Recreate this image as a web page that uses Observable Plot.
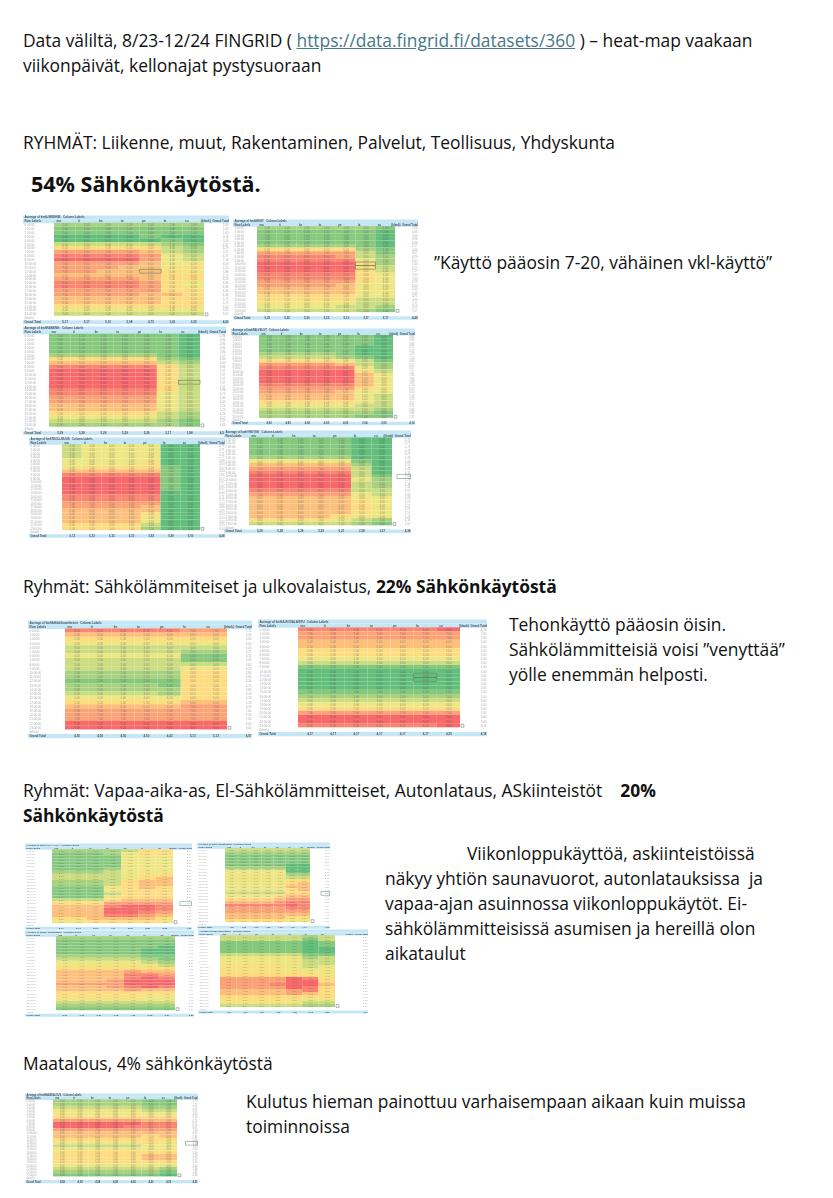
<!DOCTYPE html>
<html lang="fi">
<head>
<meta charset="utf-8">
<script src="https://cdn.jsdelivr.net/npm/d3@7"></script>
<script src="https://cdn.jsdelivr.net/npm/@observablehq/plot@0.6"></script>
<style>
html,body{margin:0;padding:0;background:#fff;}
#page{position:relative;width:833px;height:1198px;overflow:hidden;font-family:"Open Sans",sans-serif;color:#111;}
.line{position:absolute;white-space:pre;font-size:17.4px;line-height:24px;}
.line a{color:#467886;text-decoration:underline;}
.map{position:absolute;}
.map svg{display:block;filter:blur(0.5px);font-family:"Liberation Sans",sans-serif;}
</style>
</head>
<body>
<div id="page"></div>
<script>
// Ruudut: 0 = vihreä (pieni käyttö) … 9 = punainen (suuri käyttö), arvioitu kuvasta. Sarakkeet ma–su, rivit 0–23.
const days = ["ma","ti","ke","to","pe","la","su"];
const hours = ["0:00:00","1:00:00","2:00:00","3:00:00","4:00:00","5:00:00","6:00:00","7:00:00","8:00:00","9:00:00","10:00:00","11:00:00","12:00:00","13:00:00","14:00:00","15:00:00","16:00:00","17:00:00","18:00:00","19:00:00","20:00:00","21:00:00","22:00:00","23:00:00"];

const liikenne = ["2222222","1111111","1111111","0000100","0000010","3333321","5555532","7777632","8888743","9999743","7777644","7776645","7766654","6666655","7777655","8888754","8888754","7777755","7777665","6666655","6666655","5555555","4444444","3333333"];
const muut = ["2222221","1111110","1111110","1111110","1111110","2222210","5555521","7777731","8888732","8888842","9999952","9999953","9999953","8888854","8888854","7777754","7777644","6666644","6666644","5555544","5555533","4444433","4444332","3333321"];
const rakentaminen = ["1111110","1111110","1111110","1111110","1111110","2222210","5555521","6666632","8888853","9999953","9999953","9999953","9999953","9999953","8888853","8888843","7777743","7777743","6666643","6666643","5555532","4444432","3333321","2222221"];
const palvelut = ["1111110","1111110","1111110","1111100","1111100","2222100","3333210","5555431","7777632","8888842","9999953","9999964","9999964","9999964","8888864","7777754","7777644","6666643","6666643","5555543","4444433","3333332","2222221","2222211"];
const teollisuus = ["3444400","3444400","3444400","3444400","4444400","4444500","4555510","6666610","8888810","9999910","9999910","9999910","9999910","9999900","8888800","8888800","7777700","7777600","6666600","6666500","6666400","6666400","5555300","5555200"];
const yhdyskunta = ["1111100","1111100","1111100","1111100","1111100","2222200","4444410","6666620","7777730","8888830","9999931","9999942","9999932","9999932","8888833","7777743","6666644","6666654","6666654","6666654","6666654","6666544","5555432","3333321"];
const sahkolammitteiset = ["8888877","6666666","5555555","4444444","3333333","3333322","4444411","3333311","3333333","3333344","2222255","2222255","1111155","2222155","2222255","3333255","4444455","5555566","6666677","7777777","7777777","7777777","9999999","9999999"];
const ulkovalaistus = ["8888889","7777777","7777777","6666666","6666666","5555555","5555555","4444444","3333333","1111111","0000000","0000000","0000000","0000000","0000000","1111111","2222222","3333333","4444444","5555555","7777777","9999999","9999999","8888889"];
const vapaaAika = ["2222355","1112455","1111444","1111444","1111444","1111444","1112444","2223444","3333455","3333456","2223566","2223566","1114565","1114555","1113555","1114555","3335666","5557777","6668998","6669998","6669987","6668876","5566665","4455554"];
const askiinteistot = ["3333333","2222222","1111111","1111111","1111111","1111100","2222200","4444400","4444422","4444433","4444455","4444456","4444466","4444456","3333355","4444566","5555677","6666788","8888898","7777788","7777777","6666666","6666655","5555544"];
const elSahko = ["2222222","1111111","1111111","1111110","1111100","1111100","2222211","3333321","4444432","4444443","5555555","6666766","6666887","6666898","6667999","7777999","6667898","6666766","5555555","5555544","4444444","3333333","2222222","1111111"];
const autonlataus = ["3333323","3333313","1111101","1111101","1111100","1111100","3333311","4444423","4444433","4444433","5555434","4444444","5555544","5555554","7777985","7777995","7778996","7777985","6666785","6666765","5555555","5555544","4444433","3333322"];
const maatalous = ["2222211","2222211","3333322","4444433","4444444","5555555","7777766","9999988","9999888","7777777","6666666","6666656","5555555","4444454","3333344","4444444","5555555","5555566","5555566","5555555","4444444","3333332","2222221","1111110"];

const textLines = [
  [23,40,'Data väliltä, 8/23-12/24 FINGRID ( <a>https://data.fingrid.fi/datasets/360</a> ) – heat-map vaakaan'],
  [23,65,'viikonpäivät, kellonajat pystysuoraan'],
  [23,142,'RYHMÄT: Liikenne, muut, Rakentaminen, Palvelut, Teollisuus, Yhdyskunta'],
  [31,184,'<b style="font-size:21.5px">54% Sähkönkäytöstä.</b>'],
  [434,262,'”Käyttö pääosin 7-20, vähäinen vkl-käyttö”'],
  [23,586,'Ryhmät: Sähkölämmiteiset ja ulkovalaistus, <b>22% Sähkönkäytöstä</b>'],
  [509,624,'Tehonkäyttö pääosin öisin.'],
  [509,649,'Sähkölämmitteisiä voisi ”venyttää”'],
  [509,674,'yölle enemmän helposti.'],
  [23,790,'Ryhmät: Vapaa-aika-as, El-Sähkölämmitteiset, Autonlataus, ASkiinteistöt    <b>20%</b>'],
  [23,815,'<b>Sähkönkäytöstä</b>'],
  [467,853,'Viikonloppukäyttöä, askiinteistöissä'],
  [385,878,'näkyy yhtiön saunavuorot, autonlatauksissa  ja'],
  [385,903,'vapaa-ajan asuinnossa viikonloppukäytöt. Ei-'],
  [385,928,'sähkölämmitteisissä asumisen ja hereillä olon'],
  [385,953,'aikataulut'],
  [23,1063,'Maatalous, 4% sähkönkäytöstä'],
  [246,1101,'Kulutus hieman painottuu varhaisempaan aikaan kuin muissa'],
  [246,1126,'toiminnoissa']
];

// [rivit, otsikko, otsikkopalkin vasen/oikea, ruutujen vasen/oikea, ruutujen ylä/ala, valittu ruutu, valittu yhteensä-rivi]
const maps = [
  [liikenne,"Average of kwhLIIKENNE",23,229,54,204,223,316,{day:"pe",rows:[12]},null],
  [muut,"Average of kwhMUUT",233,418,257,395,226,312,{day:"la",rows:[10,11]},null],
  [rakentaminen,"Average of kwhRAKENN",23,226,49,200,334,427,{day:"su",rows:[12]},null],
  [palvelut,"Average of kwhPALVELUT",231,415,259,393,335,418,null,null],
  [teollisuus,"Average of kwhTEOLLISUUS",29,225,62,200,444,530,null,null],
  [yhdyskunta,"Average of kwhYHDYSK",224,411,249,392,437,525,null,10],
  [sahkolammitteiset,"Average of kwhSähkölämmitteiset",28,252,65,227,628,729,null,null],
  [ulkovalaistus,"Average of kwhULKOVALAISTU",258,487,298,460,627,727,{day:"la",rows:[11,12]},null],
  [vapaaAika,"Average of kwhVAPAA-AIKA",25,192,52,173,849,923,null,17],
  [askiinteistot,"Average of kwhASkiinteistöt",197,330,225,310,848,922,null,14],
  [elSahko,"Average of kwhEl-Sähkölämm",25,194,56,175,936,1010,null,null],
  [autonlataus,"Average of kwhAutonlataus",198,368,220,335,935,1007,null,null],
  [maatalous,"Average of kwhMAATALOUS",25,198,53,177,1099,1176,null,13]
];

const page = document.getElementById("page");
for (const [x,cy,html] of textLines) {
  const d = document.createElement("div");
  d.className = "line";
  d.style.left = x+"px"; d.style.top = (cy-12)+"px";
  d.innerHTML = html;
  page.appendChild(d);
}

const yDomain = ["head","Row Labels",...hours,"(blank)","Grand Total"];
const fmt = v => v.toFixed(2).replace(".",",");
const band = "#c4e6f5";

for (const [rows,title,hx0,hx1,cx0,cx1,y0,y1,sel,selTotal] of maps) {
  const rowH = (y1-y0)/24;
  const width = hx1-hx0, ml = cx0-hx0, mr = hx1-cx1, inner = cx1-cx0;
  const colW = inner/7, fs = Math.min(rowH*0.8,3);
  const ink = {fontSize:fs,fill:"#334",fillOpacity:0.42};
  const head = {fontSize:fs,fill:"#223",fillOpacity:0.75,fontWeight:"bold"};
  const cells = rows.flatMap((r,i)=>[...r].map((c,j)=>({day:days[j],hour:hours[i],v:+c})));
  const rowTotals = hours.map(h=>({hour:h,v:d3.mean(cells.filter(c=>c.hour===h),c=>c.v)}));
  const colTotals = days.map(k=>({day:k,v:d3.mean(cells.filter(c=>c.day===k),c=>c.v)}));
  const grand = d3.mean(cells,c=>c.v);
  const bandRule = (k)=>Plot.ruleY([k],{stroke:band,strokeWidth:rowH,insetLeft:-ml,insetRight:-mr});
  const marks = [
    bandRule("head"),bandRule("Row Labels"),bandRule("Grand Total"),
    Plot.cell(cells,{x:"day",y:"hour",fill:"v"}),
    Plot.text(cells,{x:"day",y:"hour",text:d=>fmt(d.v),...ink}),
    Plot.axisX(days,{anchor:"top",label:null,tickSize:0,tickPadding:0,...head,textAnchor:"start",lineAnchor:"middle",dx:-colW/2+2,dy:rowH*1.5}),
    Plot.axisY([...hours,"(blank)"],{anchor:"left",label:null,tickSize:0,tickPadding:0,...ink,textAnchor:"start",dx:-ml+1}),
    Plot.text(["Row Labels","Grand Total"],{y:d=>d,frameAnchor:"left",textAnchor:"start",dx:-ml+1,text:d=>d,...head}),
    Plot.text([title+"   Column Labels"],{y:()=>"head",frameAnchor:"left",textAnchor:"start",dx:-ml+1,text:d=>d,...head}),
    Plot.text(["(blank)  Grand Total"],{y:()=>"Row Labels",frameAnchor:"right",textAnchor:"end",dx:mr-0.5,text:d=>d,...head}),
    Plot.text(colTotals,{x:"day",y:()=>"Grand Total",text:d=>fmt(d.v),...head}),
    Plot.text([grand],{y:()=>"Grand Total",frameAnchor:"right",textAnchor:"end",dx:mr-1,text:fmt,...head}),
    // pieni liitosasetuskuvake viimeisen ruudun vieressä
    Plot.dot(["su"],{x:d=>d,y:()=>"23:00:00",symbol:"square",r:1.6,fill:"#fff",stroke:"#667",strokeWidth:0.5,dx:colW/2+2})
  ];
  if (selTotal !== null) {
    marks.push(Plot.ruleY([hours[selTotal]],{stroke:"#6d8a6d",strokeWidth:rowH+1,insetLeft:inner+mr-colW*0.6-2,insetRight:-mr}));
    marks.push(Plot.ruleY([hours[selTotal]],{stroke:"#fff",strokeWidth:rowH,insetLeft:inner+mr-colW*0.6-1.5,insetRight:-mr+0.5}));
  }
  marks.push(Plot.text(rowTotals,{y:"hour",frameAnchor:"right",textAnchor:"end",dx:mr-1,text:d=>fmt(d.v),...ink}));
  if (sel) marks.push(Plot.cell(sel.rows.map(i=>({day:sel.day,hour:hours[i]})),{x:"day",y:"hour",fill:"none",stroke:"#5f7f5f",strokeWidth:0.6}));

  const chart = Plot.plot({
    width,height:rowH*28,
    marginLeft:ml,marginRight:mr,marginTop:0,marginBottom:0,
    style:{background:"transparent",overflow:"visible"},
    x:{type:"band",domain:days,padding:0,round:false,axis:null},
    y:{type:"band",domain:yDomain,padding:0,round:false,axis:null},
    color:{type:"linear",domain:[0,4.5,9],range:["#63be7b","#ffeb84","#f8696b"],interpolate:"rgb"},
    marks
  });
  const wrap = document.createElement("div");
  wrap.className = "map";
  wrap.style.left = hx0+"px"; wrap.style.top = (y0-2*rowH)+"px";
  wrap.appendChild(chart);
  page.appendChild(wrap);
}
</script>
</body>
</html>
